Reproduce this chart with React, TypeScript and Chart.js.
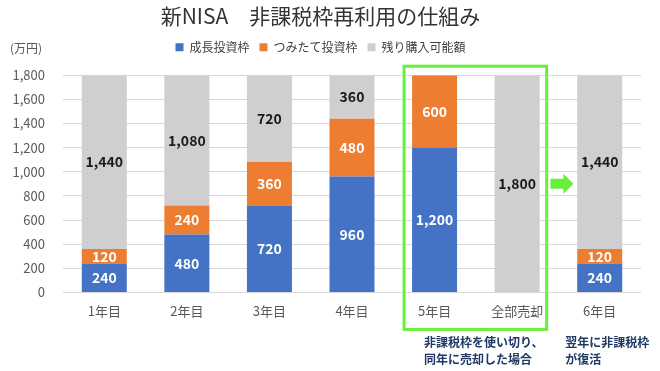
import React, { useEffect, useRef } from "react";
import { Chart, registerables } from "chart.js";

Chart.register(...registerables);

const categories = ["1年目", "2年目", "3年目", "4年目", "5年目", "全部売却", "6年目"];
const growthValues = [240, 480, 720, 960, 1200, 0, 240];
const tsumitateValues = [120, 240, 360, 480, 600, 0, 120];
const remainingValues = [1440, 1080, 720, 360, 0, 1800, 1440];
const seriesNames = ["成長投資枠", "つみたて投資枠", "残り購入可能額"];
const titleText = "新NISA　非課税枠再利用の仕組み";
const unitText = "(万円)";
const noteLeft = ["非課税枠を使い切り、", "同年に売却した場合"];
const noteRight = ["翌年に非課税枠", "が復活"];
const arrowLevel = 900;

const FONT = "'Noto Sans CJK JP', 'Noto Sans', sans-serif";
const BLUE = "#4472C4";
const ORANGE = "#ED7D31";
const GRAY = "#D0CECE";
const GREEN = "#66F03A";
const NAVY = "#1F3864";

const labelPlugin = {
  id: "barLabels",
  afterDatasetsDraw(chart: any) {
    const ctx = chart.ctx;
    ctx.save();
    ctx.font = `bold 14px ${FONT}`;
    ctx.textAlign = "center";
    ctx.textBaseline = "middle";
    chart.data.datasets.forEach((ds: any, di: number) => {
      const meta = chart.getDatasetMeta(di);
      meta.data.forEach((el: any, i: number) => {
        const v = ds.data[i];
        if (!v) return;
        const p = el.getProps(["x", "y", "base"], true);
        ctx.fillStyle = di === 2 ? "#1a1a1a" : "#ffffff";
        ctx.fillText(v.toLocaleString("en-US"), p.x, (p.y + p.base) / 2);
      });
    });
    ctx.restore();
  },
};

const decoPlugin = {
  id: "deco",
  afterDraw(chart: any) {
    const ctx = chart.ctx;
    const meta = chart.getDatasetMeta(0);
    const b4 = meta.data[4].getProps(["x", "width"], true);
    const b5 = meta.data[5].getProps(["x", "width"], true);
    const b6 = meta.data[6].getProps(["x", "width"], true);
    const area = chart.chartArea;
    ctx.save();
    // unit
    ctx.font = `12px ${FONT}`;
    ctx.fillStyle = "#595959";
    ctx.textAlign = "left";
    ctx.textBaseline = "middle";
    ctx.fillText(unitText, 10, 48);
    // green box
    const left = b4.x - b4.width / 2 - 8;
    const right = b5.x + b5.width / 2 + 7;
    ctx.strokeStyle = GREEN;
    ctx.lineWidth = 3;
    ctx.strokeRect(left, area.top - 9, right - left, area.bottom + 37 - (area.top - 9));
    // arrow
    const mid = (b5.x + b6.x) / 2 + 3;
    const ay = chart.scales.y.getPixelForValue(arrowLevel);
    const x0 = mid - 11;
    const xs = mid + 2;
    const x1 = mid + 12;
    ctx.fillStyle = GREEN;
    ctx.beginPath();
    ctx.moveTo(x0, ay - 5);
    ctx.lineTo(xs, ay - 5);
    ctx.lineTo(xs, ay - 10);
    ctx.lineTo(x1, ay);
    ctx.lineTo(xs, ay + 10);
    ctx.lineTo(xs, ay + 5);
    ctx.lineTo(x0, ay + 5);
    ctx.closePath();
    ctx.fill();
    // notes
    ctx.font = `bold 12px ${FONT}`;
    ctx.fillStyle = NAVY;
    ctx.textAlign = "left";
    const lx = left + 20;
    const rx = b6.x - b6.width / 2 - 12;
    noteLeft.forEach((t, i) => ctx.fillText(t, lx, 342 + i * 17));
    noteRight.forEach((t, i) => ctx.fillText(t, rx, 342 + i * 17));
    ctx.restore();
  },
};

const legendSpacer = {
  id: "legendSpacer",
  beforeInit(chart: any) {
    const orig = chart.legend.fit;
    chart.legend.fit = function () {
      orig.call(this);
      this.height += 12;
    };
  },
};

export default function App() {
  const ref = useRef<HTMLCanvasElement>(null);
  useEffect(() => {
    if (!ref.current) return;
    const chart = new Chart(ref.current, {
      type: "bar",
      data: {
        labels: categories,
        datasets: [
          { label: seriesNames[0], data: growthValues, backgroundColor: BLUE },
          { label: seriesNames[1], data: tsumitateValues, backgroundColor: ORANGE },
          { label: seriesNames[2], data: remainingValues, backgroundColor: GRAY },
        ],
      },
      options: {
        responsive: false,
        animation: false,
        datasets: { bar: { barPercentage: 0.545, categoryPercentage: 1 } },
        layout: { padding: { left: 0, right: 19, top: 0, bottom: 49 } },
        plugins: {
          title: {
            display: true,
            text: titleText,
            color: "#333333",
            font: { family: FONT, size: 21, weight: "normal" },
            padding: { top: 3, bottom: 3 },
          },
          legend: {
            display: true,
            labels: {
              boxWidth: 8,
              boxHeight: 8,
              padding: 10,
              color: "#404040",
              font: { family: FONT, size: 12 },
            },
          },
          tooltip: { enabled: false },
        },
        scales: {
          x: {
            stacked: true,
            grid: { display: false },
            border: { display: false },
            ticks: { color: "#595959", font: { family: FONT, size: 13 }, padding: 3 },
          },
          y: {
            stacked: true,
            min: 0,
            max: 1800,
            afterFit(scale: any) {
              scale.width = 63;
            },
            grid: { color: "#D9D9D9", drawTicks: false },
            border: { display: false },
            ticks: {
              stepSize: 200,
              padding: 18,
              color: "#595959",
              font: { family: FONT, size: 13 },
              callback: (v: any) => Number(v).toLocaleString("en-US"),
            },
          },
        },
      },
      plugins: [labelPlugin, decoPlugin, legendSpacer],
    });
    return () => chart.destroy();
  }, []);
  return (
    <div style={{ position: "absolute", left: 0, top: 0, width: 660, height: 371, background: "#fff" }}>
      <canvas ref={ref} width={660} height={371} />
    </div>
  );
}
